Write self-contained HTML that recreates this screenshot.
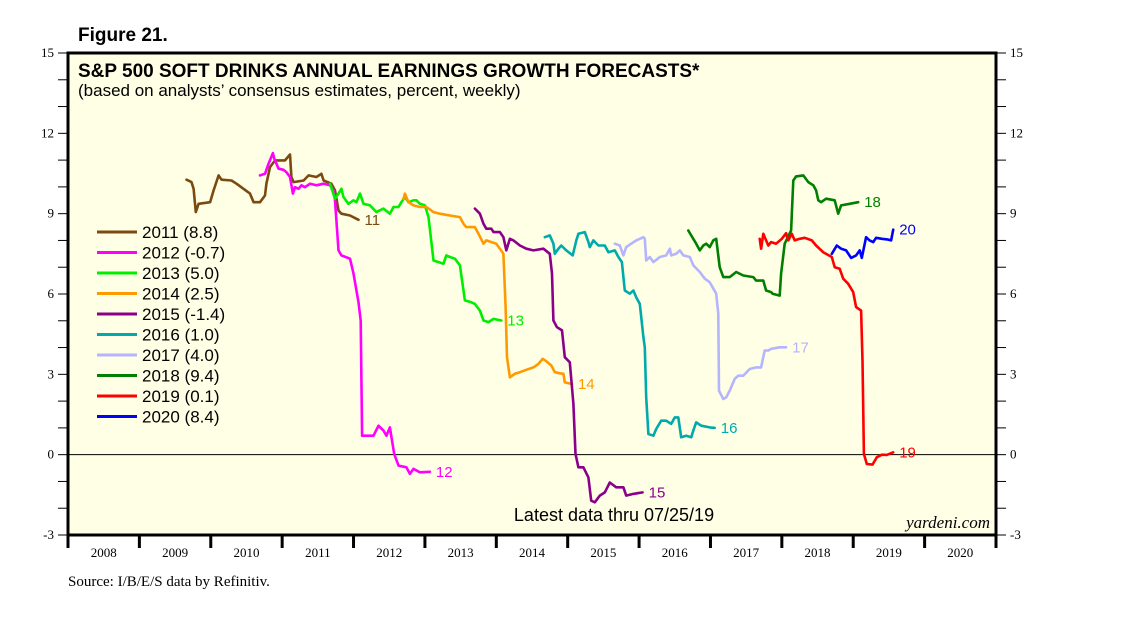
<!DOCTYPE html>
<html><head><meta charset="utf-8">
<style>
html,body{margin:0;padding:0;background:#fff;}
svg{display:block;}
.ar{font-family:"Liberation Sans",Arial,sans-serif;}
.tm{font-family:"Liberation Serif","Times New Roman",serif;}
</style></head>
<body>
<svg id="chart" width="1138" height="621" viewBox="0 0 1138 621" xmlns="http://www.w3.org/2000/svg">
<rect x="0" y="0" width="1138" height="621" fill="#fff"/>
<text x="78" y="41" class="ar" font-size="19" font-weight="bold">Figure 21.</text>
<rect x="68" y="53" width="928" height="482" fill="#FFFFE6"/>
<g id="grid"></g>
<g id="series"></g>
<rect x="68" y="53" width="928" height="482" fill="none" stroke="#000" stroke-width="3"/>
<text x="78" y="77" class="ar" font-size="19" font-weight="bold">S&amp;P 500 SOFT DRINKS ANNUAL EARNINGS GROWTH FORECASTS*</text>
<text x="78" y="96" class="ar" font-size="17">(based on analysts’ consensus estimates, percent, weekly)</text>
<text x="614" y="521" text-anchor="middle" class="ar" font-size="18">Latest data thru 07/25/19</text>
<text x="990" y="528" text-anchor="end" class="tm" font-size="17" font-style="italic">yardeni.com</text>
<text x="68" y="586" class="tm" font-size="15">Source: I/B/E/S data by Refinitiv.</text>
<g id="axes"></g>
<g id="legend"></g>
</svg>
<script>
const yTicks = [-3, 0, 3, 6, 9, 12, 15];
const years = [2008,2009,2010,2011,2012,2013,2014,2015,2016,2017,2018,2019,2020];
const seriesNames = ["2011","2012","2013","2014","2015","2016","2017","2018","2019","2020"];
const legendValues = ["8.8","-0.7","5.0","2.5","-1.4","1.0","4.0","9.4","0.1","8.4"];
const endLabels = ["11","12","13","14","15","16","17","18","19","20"];
const seriesColors = ["#7B4A10","#FF00FF","#00EE00","#FF9900","#8B008B","#00AAAA","#B4B4FF","#007F00","#FF0000","#0000FF"];
const t2011 = [2009.66,2009.73,2009.76,2009.79,2009.83,2009.99,2010.04,2010.11,2010.15,2010.29,2010.36,2010.55,2010.60,2010.69,2010.76,2010.78,2010.83,2010.90,2011.04,2011.11,2011.13,2011.16,2011.30,2011.37,2011.48,2011.55,2011.58,2011.69,2011.74,2011.79,2011.83,2011.95,2012.07];
const v2011 = [10.27,10.18,9.93,9.06,9.37,9.43,9.87,10.43,10.27,10.24,10.12,9.75,9.43,9.43,9.68,10.12,10.74,10.99,10.99,11.21,10.37,10.18,10.24,10.43,10.37,10.49,10.24,10.12,9.87,9.12,9.0,8.93,8.77];
const t2012 = [2010.69,2010.76,2010.81,2010.87,2010.89,2010.95,2011.02,2011.06,2011.11,2011.15,2011.18,2011.23,2011.27,2011.32,2011.39,2011.48,2011.58,2011.67,2011.72,2011.74,2011.79,2011.83,2011.95,2012.0,2012.07,2012.10,2012.12,2012.21,2012.28,2012.35,2012.42,2012.46,2012.51,2012.57,2012.63,2012.74,2012.79,2012.84,2012.93,2013.07];
const v2012 = [10.43,10.49,10.87,11.26,11.05,10.68,10.64,10.55,10.37,9.75,9.99,9.93,10.06,9.99,10.12,10.06,10.12,10.06,9.87,9.5,7.63,7.44,7.32,6.76,5.69,5.01,0.71,0.71,0.71,1.08,0.90,0.71,1.02,0.03,-0.41,-0.47,-0.72,-0.53,-0.66,-0.64];
const t2013 = [2011.67,2011.74,2011.79,2011.83,2011.86,2011.93,2012.0,2012.04,2012.09,2012.14,2012.23,2012.32,2012.42,2012.51,2012.56,2012.63,2012.67,2012.72,2012.77,2012.84,2012.88,2012.93,2013.0,2013.05,2013.12,2013.19,2013.26,2013.30,2013.35,2013.42,2013.49,2013.56,2013.65,2013.70,2013.77,2013.82,2013.89,2013.96,2014.07];
const v2013 = [10.12,9.56,9.75,9.93,9.62,9.37,9.5,9.43,9.75,9.37,9.31,9.06,9.19,9.0,9.25,9.25,9.43,9.62,9.43,9.5,9.5,9.37,9.31,8.87,7.25,7.19,7.13,7.44,7.38,7.32,7.07,5.76,5.69,5.63,5.38,5.01,4.95,5.07,5.01];
const t2014 = [2012.70,2012.72,2012.77,2012.84,2012.93,2013.02,2013.12,2013.21,2013.35,2013.49,2013.54,2013.58,2013.70,2013.75,2013.82,2013.86,2014.00,2014.05,2014.10,2014.13,2014.15,2014.19,2014.26,2014.33,2014.42,2014.52,2014.59,2014.65,2014.70,2014.77,2014.82,2014.89,2014.94,2014.96,2015.06];
const v2014 = [9.56,9.75,9.43,9.31,9.25,9.25,9.06,9.0,8.93,8.87,8.62,8.5,8.5,8.25,7.88,8.0,7.88,7.69,7.50,5.51,3.64,2.89,3.02,3.08,3.17,3.26,3.39,3.58,3.49,3.33,3.08,3.04,3.02,2.70,2.64];
const t2015 = [2013.70,2013.77,2013.82,2013.86,2013.93,2013.96,2014.05,2014.10,2014.14,2014.19,2014.24,2014.33,2014.42,2014.52,2014.66,2014.75,2014.78,2014.80,2014.85,2014.92,2014.96,2015.03,2015.08,2015.11,2015.15,2015.22,2015.29,2015.33,2015.38,2015.45,2015.52,2015.59,2015.68,2015.78,2015.82,2015.91,2016.05];
const v2015 = [9.19,9.0,8.62,8.44,8.44,8.31,8.31,8.12,7.63,8.06,8.0,7.81,7.69,7.63,7.69,7.50,6.76,5.01,4.76,4.64,3.64,3.45,1.90,0.03,-0.47,-0.47,-0.85,-1.72,-1.78,-1.53,-1.41,-1.04,-1.22,-1.22,-1.53,-1.47,-1.41];
const t2016 = [2014.68,2014.75,2014.80,2014.82,2014.87,2014.91,2014.98,2015.07,2015.12,2015.15,2015.24,2015.29,2015.31,2015.36,2015.43,2015.52,2015.57,2015.66,2015.71,2015.76,2015.78,2015.80,2015.87,2015.92,2015.96,2016.01,2016.06,2016.08,2016.10,2016.13,2016.20,2016.24,2016.31,2016.38,2016.45,2016.50,2016.55,2016.59,2016.66,2016.73,2016.76,2016.80,2016.87,2016.99,2017.06];
const v2016 = [8.12,8.19,7.88,7.50,7.69,7.81,7.63,7.44,8.0,8.25,8.31,7.94,7.75,8.0,7.81,7.81,7.56,7.63,7.38,7.19,6.63,6.13,6.01,6.13,5.88,5.63,4.39,4.01,2.14,0.77,0.71,0.96,1.27,1.27,1.15,1.39,1.39,0.65,0.71,0.65,0.90,1.21,1.08,1.02,1.0];
const t2017 = [2015.66,2015.73,2015.78,2015.82,2015.89,2015.96,2016.06,2016.08,2016.10,2016.15,2016.20,2016.29,2016.38,2016.43,2016.45,2016.52,2016.57,2016.62,2016.71,2016.76,2016.85,2016.92,2016.99,2017.08,2017.11,2017.12,2017.18,2017.22,2017.27,2017.34,2017.39,2017.46,2017.55,2017.64,2017.71,2017.76,2017.81,2017.85,2017.97,2018.06];
const v2017 = [7.88,7.81,7.44,7.75,7.88,8.0,8.12,8.06,7.25,7.38,7.19,7.38,7.44,7.69,7.44,7.50,7.63,7.44,7.38,7.07,6.82,6.57,6.44,6.01,5.26,2.39,2.08,2.14,2.39,2.83,2.95,2.95,3.20,3.26,3.26,3.89,3.89,3.95,4.01,4.01];
const t2018 = [2016.69,2016.73,2016.80,2016.85,2016.90,2016.94,2016.99,2017.04,2017.08,2017.13,2017.18,2017.27,2017.36,2017.46,2017.60,2017.64,2017.74,2017.78,2017.85,2017.87,2017.97,2017.99,2018.04,2018.13,2018.16,2018.20,2018.30,2018.37,2018.44,2018.48,2018.51,2018.55,2018.62,2018.74,2018.79,2018.83,2018.95,2019.07];
const v2018 = [8.37,8.19,7.88,7.63,7.81,7.88,7.75,8.0,8.06,7.0,6.63,6.63,6.82,6.69,6.63,6.50,6.50,6.13,6.07,6.01,5.94,6.76,7.88,8.37,10.24,10.39,10.43,10.18,10.06,9.87,9.50,9.43,9.56,9.50,9.0,9.31,9.37,9.43];
const t2019 = [2017.69,2017.71,2017.74,2017.78,2017.81,2017.85,2017.92,2018.0,2018.06,2018.09,2018.14,2018.18,2018.25,2018.32,2018.42,2018.48,2018.58,2018.70,2018.74,2018.81,2018.86,2018.93,2019.0,2019.04,2019.11,2019.13,2019.15,2019.19,2019.27,2019.33,2019.40,2019.47,2019.56];
const v2019 = [8.06,7.69,8.25,8.0,7.81,7.94,7.88,8.06,8.27,8.0,8.25,8.0,8.06,8.10,8.0,7.81,7.56,7.38,7.0,6.94,6.57,6.38,6.07,5.51,5.38,3.51,0.03,-0.35,-0.37,-0.10,0.0,-0.01,0.09];
const t2020 = [2018.70,2018.77,2018.83,2018.90,2018.97,2019.04,2019.09,2019.12,2019.18,2019.23,2019.28,2019.32,2019.40,2019.49,2019.53,2019.56];
const v2020 = [7.50,7.81,7.69,7.63,7.35,7.44,7.63,7.35,8.12,8.0,7.94,8.10,8.06,8.03,8.0,8.40];
const seriesT = [t2011,t2012,t2013,t2014,t2015,t2016,t2017,t2018,t2019,t2020];
const seriesV = [v2011,v2012,v2013,v2014,v2015,v2016,v2017,v2018,v2019,v2020];

const NS = "http://www.w3.org/2000/svg";
const X0 = 68, X1 = 996, Y0 = 535, Y1 = 53, YMIN = -3, YMAX = 15, TMIN = 2008, TMAX = 2021;
function xs(t){ return X0 + (t - TMIN) / (TMAX - TMIN) * (X1 - X0); }
function ys(v){ return Y0 - (v - YMIN) / (YMAX - YMIN) * (Y0 - Y1); }
function mk(tag, attrs, parent){ const e = document.createElementNS(NS, tag); for (const k in attrs) e.setAttribute(k, attrs[k]); parent.appendChild(e); return e; }

const grid = document.getElementById('grid');
const zl = mk('line', {x1:X0, x2:X1, y1:ys(0), y2:ys(0), stroke:'#000', 'stroke-width':1}, grid);



const axes = document.getElementById('axes');
for (let v = YMIN; v <= YMAX; v++) {
  const major = yTicks.includes(v);
  const tl = mk('line', {x1:X0-10, x2:X0, y1:ys(v), y2:ys(v), stroke:'#000', 'stroke-width':1}, axes);
  
  
  const tr = mk('line', {x1:X1, x2:X1+10, y1:ys(v), y2:ys(v), stroke:'#000', 'stroke-width':1}, axes);
  
  
  if (major) {
    const a = mk('text', {x:X0-14, y:ys(v)+4, 'text-anchor':'end', 'font-size':13, class:'tm'}, axes);
    a.textContent = v;
    
    
    const b = mk('text', {x:X1+14, y:ys(v)+4, 'text-anchor':'start', 'font-size':13, class:'tm'}, axes);
    b.textContent = v;
    
    
  }
}
for (let i = 0; i <= years.length; i++) {
  const yr = TMIN + i;
  const t = mk('line', {x1:xs(yr), x2:xs(yr), y1:Y0, y2:Y0+13, stroke:'#000', 'stroke-width':3}, axes);
  
  
}
years.forEach(yr => {
  const l = mk('text', {x:xs(yr+0.5), y:Y0+22, 'text-anchor':'middle', 'font-size':13, class:'tm'}, axes);
  l.textContent = yr;
  
  
});

const sg = document.getElementById('series');
seriesT.forEach((ts, i) => {
  const vs = seriesV[i];
  const pts = ts.map((t, j) => xs(t).toFixed(1) + ',' + ys(vs[j]).toFixed(1)).join(' ');
  const pl = mk('polyline', {points:pts, fill:'none', stroke:seriesColors[i], 'stroke-width':2.6, 'stroke-linejoin':'round', 'stroke-linecap':'round'}, sg);
  
  
  const lastT = ts[ts.length-1], lastV = vs[vs.length-1];
  const lb = mk('text', {x:xs(lastT)+6, y:ys(lastV)+5, fill:seriesColors[i], 'font-size':15, class:'ar'}, sg);
  lb.textContent = endLabels[i];
  
  
});

const lg = document.getElementById('legend');
seriesNames.forEach((n, i) => {
  const y = 232 + i * 20.5;
  const ln = mk('line', {x1:97, x2:137, y1:y, y2:y, stroke:seriesColors[i], 'stroke-width':3}, lg);
  
  
  const tx = mk('text', {x:142, y:y+6, 'font-size':17, class:'ar'}, lg);
  tx.textContent = n + ' (' + legendValues[i] + ')';
  
  
});
</script>
</body></html>
